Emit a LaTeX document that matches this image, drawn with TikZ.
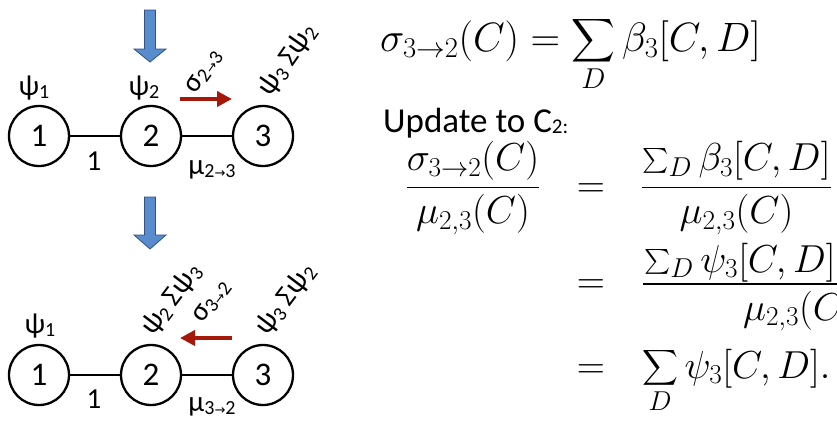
\RequirePackage{fix-cm}
\documentclass[tikz,border=0pt]{standalone}
\usepackage{amsmath}
\usepackage{graphicx}
\usepackage{fontspec}
\setmainfont{Carlito}
\newfontfamily\djv{DejaVu Sans}
\usetikzlibrary{arrows.meta}
\definecolor{redarr}{RGB}{165,25,12}
\definecolor{bluefill}{RGB}{88,140,204}
\definecolor{blueline}{RGB}{50,80,130}
\newcommand{\sbs}[1]{\raisebox{-0.1em}{\fontsize{20}{20}\selectfont #1}}
\newcommand{\arr}{{\djv\fontsize{13}{13}\selectfont →}}
\newcommand{\Bsum}{\mathop{\vcenter{\hbox{\scalebox{1.22}{$\displaystyle\sum$}}}}\limits}
\begin{document}
\begin{tikzpicture}[x=1pt,y=-1pt,
  var/.style={circle,draw,line width=2.3pt,minimum size=60pt,inner sep=0pt,font=\fontsize{33}{33}\selectfont},
  edge/.style={line width=2.3pt},
  lab/.style={inner sep=0pt,font=\fontsize{29}{29}\selectfont},
  msg/.style={line width=4pt,redarr,-{Triangle[length=15pt,width=15pt]}},
  blk/.style={fill=bluefill,draw=blueline,line width=0.8pt},
  eqtop/.style={inner sep=0pt,font=\fontsize{41}{43}\selectfont},
  eqlow/.style={inner sep=0pt,font=\fontsize{39}{41}\selectfont},
  ]
\useasboundingbox (0,0) rectangle (837,421);
% ---------- top graph ----------
\node[var] (a1) at (39,136) {1};
\node[var] (a2) at (151,136) {2};
\node[var] (a3) at (263,136) {3};
\draw[edge] (a1) -- (a2);
\draw[edge] (a2) -- (a3);
\node[lab] (ta1) at (34,88) {ψ\sbs{1}};
\node[lab] (ta2) at (144,88) {ψ\sbs{2}};
\node[lab] (te12) at (94,161) {1};
\node[lab] (te23) at (212,170) {μ\sbs{2\arr3}};
\node[lab,rotate=55] (tsig1) at (204,72) {σ\sbs{2\arr3}};
\node[lab,rotate=55] (ta3) at (288,60) {ψ\sbs{3} Σψ\sbs{2}};
\coordinate (m1s) at (180,99);
\coordinate (m1e) at (232,99);
\draw[msg] (m1s) -- (m1e);
\draw[blk] (144.5,10) -- (155.5,10) -- (155.5,49) -- (166,49) -- (150,62) -- (134,49) -- (144.5,49) -- cycle;
% ---------- bottom graph ----------
\draw[blk] (144.5,197) -- (155.5,197) -- (155.5,235) -- (166,235) -- (150,249) -- (134,235) -- (144.5,235) -- cycle;
\node[var] (b1) at (39,375) {1};
\node[var] (b2) at (151,375) {2};
\node[var] (b3) at (263,375) {3};
\draw[edge] (b1) -- (b2);
\draw[edge] (b2) -- (b3);
\node[lab] (tb1) at (40,326) {ψ\sbs{1}};
\node[lab] (te12b) at (94,399) {1};
\node[lab] (te32) at (212,407) {μ\sbs{3\arr2}};
\node[lab,rotate=53] (tb2) at (172,300) {ψ\sbs{2} Σψ\sbs{3}};
\node[lab,rotate=53] (tsig2) at (212,302) {σ\sbs{3\arr2}};
\node[lab,rotate=53] (tb3) at (286,300) {ψ\sbs{3} Σψ\sbs{2}};
\coordinate (m2s) at (232,338);
\coordinate (m2e) at (180,338);
\draw[msg] (m2s) -- (m2e);
% ---------- equations ----------
\node[eqtop,anchor=base west] (eq0) at (380,51) {$\displaystyle\sigma_{3\to2}(C)=\Bsum_D\beta_3[C,D]$};
\node[anchor=base west,inner sep=0pt,font=\fontsize{35}{38}\selectfont] (upd) at (383,132) {Update to C\raisebox{-0.05em}{\fontsize{21}{21}\selectfont 2:}};
\node[eqlow,anchor=base] (lf) at (473,197) {$\displaystyle\frac{\sigma_{3\to2}(C)}{\mu_{2,3}(C)}$};
\node[eqlow,anchor=base] (e1) at (591,197) {$=$};
\node[eqlow,anchor=base west] (rf1) at (641,197) {$\displaystyle\frac{\sum_D\beta_3[C,D]}{\mu_{2,3}(C)}$};
\node[eqlow,anchor=base] (e2) at (591,293) {$=$};
\node[eqlow,anchor=base west] (n2) at (644,272) {$\textstyle\sum_D\psi_3[C,D]$};
\node[eqlow,anchor=base west] (d2) at (743,320) {$\mu_{2,3}(C$};
\coordinate (bar2a) at (643,284);
\coordinate (bar2b) at (837,284);
\draw[line width=1.5pt] (bar2a) -- (bar2b);
\node[eqlow,anchor=base] (e3) at (591,378) {$=$};
\node[eqlow,anchor=base west] (s3) at (642,378) {$\displaystyle\sum_D\psi_3[C,D].$};
\end{tikzpicture}
\end{document}
